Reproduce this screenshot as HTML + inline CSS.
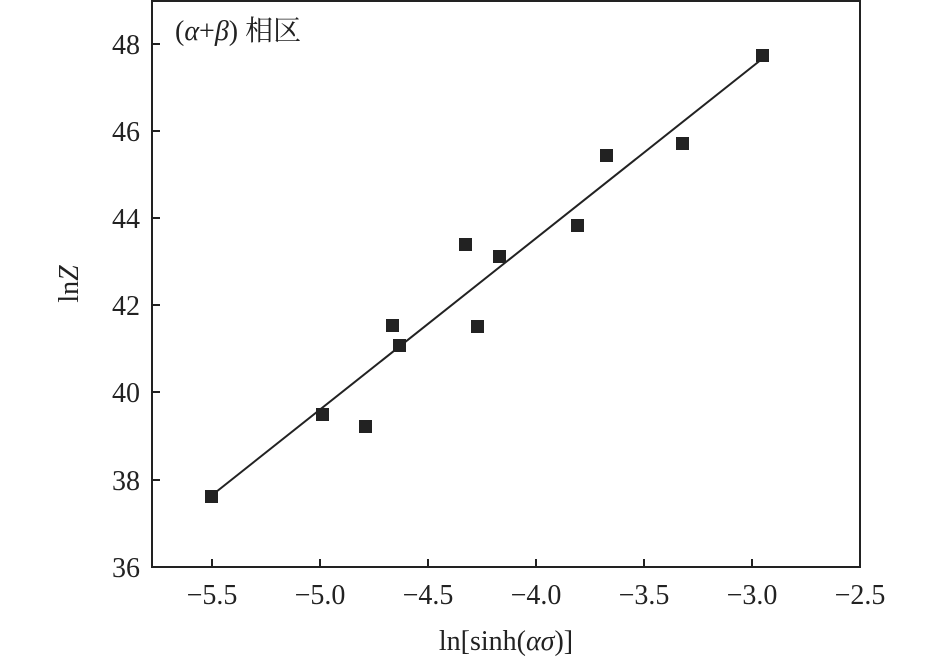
<!DOCTYPE html><html><head><style>body{margin:0;background:#fff}</style></head><body>
<svg width="945" height="662" xmlns="http://www.w3.org/2000/svg" font-family="Liberation Serif, Noto Serif CJK SC, serif" fill="#222">
<rect x="152" y="1" width="708" height="566" fill="none" stroke="#222" stroke-width="2"/>
<g stroke="#222" stroke-width="2">
<line x1="212" y1="567" x2="212" y2="559"/><line x1="320" y1="567" x2="320" y2="559"/><line x1="428" y1="567" x2="428" y2="559"/><line x1="536" y1="567" x2="536" y2="559"/><line x1="644" y1="567" x2="644" y2="559"/><line x1="752" y1="567" x2="752" y2="559"/>
<line x1="152" y1="480" x2="160" y2="480"/><line x1="152" y1="392" x2="160" y2="392"/><line x1="152" y1="305" x2="160" y2="305"/><line x1="152" y1="218" x2="160" y2="218"/><line x1="152" y1="131" x2="160" y2="131"/><line x1="152" y1="44" x2="160" y2="44"/>
<line x1="211" y1="496" x2="762" y2="59"/>
</g>
<g font-size="28" text-anchor="middle">
<text x="212" y="604">−5.5</text><text x="320" y="604">−5.0</text><text x="428" y="604">−4.5</text><text x="536" y="604">−4.0</text><text x="644" y="604">−3.5</text><text x="752" y="604">−3.0</text><text x="860" y="604">−2.5</text>
</g>
<g font-size="28" text-anchor="end">
<text x="140" y="577">36</text><text x="140" y="490">38</text><text x="140" y="402">40</text><text x="140" y="315">42</text><text x="140" y="228">44</text><text x="140" y="141">46</text><text x="140" y="54">48</text>
</g>
<text x="506" y="650" font-size="28" text-anchor="middle">ln[sinh(<tspan font-style="italic">ασ</tspan>)]</text>
<text transform="translate(78,284) rotate(-90)" font-size="28" text-anchor="middle">ln<tspan font-style="italic">Z</tspan></text>
<text x="175" y="40" font-size="28">(<tspan font-style="italic">α</tspan>+<tspan font-style="italic">β</tspan>) 相区</text>
<g>
<rect x="205" y="490" width="13" height="13"/><rect x="316" y="408" width="13" height="13"/><rect x="359" y="420" width="13" height="13"/><rect x="386" y="319" width="13" height="13"/><rect x="393" y="339" width="13" height="13"/><rect x="459" y="238" width="13" height="13"/><rect x="471" y="320" width="13" height="13"/><rect x="493" y="250" width="13" height="13"/><rect x="571" y="219" width="13" height="13"/><rect x="600" y="149" width="13" height="13"/><rect x="676" y="137" width="13" height="13"/><rect x="756" y="49" width="13" height="13"/>
</g>
</svg></body></html>
